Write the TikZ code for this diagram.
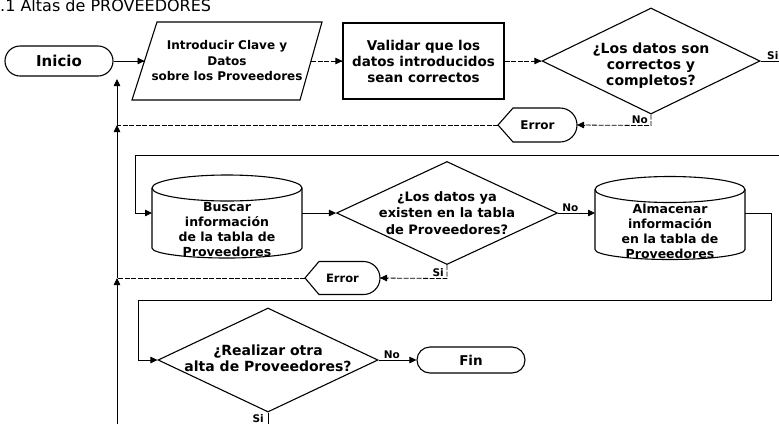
\documentclass[tikz,border=0pt]{standalone}
\usepackage{fontspec}
\setmainfont{DejaVu Sans}
\usetikzlibrary{arrows.meta,shapes.geometric,shapes.misc,calc}

\begin{document}
\begin{tikzpicture}[x=1pt,y=1pt,
  outline/.style={draw=black, line width=1.1pt},
  link/.style={draw=black, line width=0.8pt},
  flow/.style={link, -{Triangle[length=7pt,width=6.5pt]}},
  linkdash/.style={link, dash pattern=on 5pt off 1.5pt},
  holder/.style={inner sep=0pt, outer sep=0pt},
  txt/.style 2 args={align=center, inner sep=0pt, font=\bfseries\fontsize{#1}{#2}\selectfont},
  lbl/.style={inner sep=1pt, font=\bfseries\fontsize{10.5}{11}\selectfont},
  terminal/.style={rounded rectangle, outline, inner sep=0pt},
  decision/.style={diamond, outline, inner sep=0pt}
]
\useasboundingbox (0,0) rectangle (779,-424);

% heading
\node[anchor=base west, inner sep=0pt, font=\fontsize{16}{16}\selectfont] (title) at (0,-11) {.1 Altas de PROVEEDORES};

% ---- first row ----
\node[terminal, minimum width=108, minimum height=30, font=\bfseries\fontsize{15}{15}\selectfont] (inicio) at (59,-61) {Inicio};

\node[holder, minimum width=190, minimum height=78, txt={12}{15.5}] (datos) at (227,-61)
  {Introducir Clave y\\Datos\\sobre los Proveedores};
\draw[outline] ([xshift=25]datos.north west) -- (datos.north east)
  -- ([xshift=-22]datos.south east) -- (datos.south west) -- cycle;

\node[outline, minimum width=161, minimum height=76, txt={13.5}{16}] (validar) at (423.5,-61)
  {Validar que los\\datos introducidos\\sean correctos};

\node[decision, minimum width=218, minimum height=106] (d1) at (651,-61) {};
\node[txt={14}{16}] (d1text) at (651,-66) {¿Los datos son\\correctos y\\completos?};

\node[holder, minimum width=79, minimum height=34, txt={12}{14}] (err1) at (537.5,-125) {Error};
\draw[outline] (err1.west) -- ([xshift=15]err1.north west) -- ([xshift=-17]err1.north east)
  arc[start angle=90, end angle=-90, radius=17] -- ([xshift=15]err1.south west) -- cycle;

% ---- second row ----
\node[holder, minimum width=150, minimum height=83] (cyl1) at (227,-216.5) {};
\draw[outline] ([yshift=-13]cyl1.north) ellipse[x radius=75, y radius=13];
\draw[outline] ([yshift=-13]cyl1.north west) -- ([yshift=10]cyl1.south west)
  arc[start angle=180, end angle=360, x radius=75, y radius=10] -- ([yshift=-13]cyl1.north east);
\node[txt={12.5}{15}] (cyl1text) at (227,-230) {Buscar\\información\\de la tabla de\\Proveedores};

\node[decision, minimum width=221, minimum height=103] (d2) at (447,-213) {};
\node[txt={13}{16.5}] (d2text) at (447,-213) {¿Los datos ya\\existen en la tabla\\de Proveedores?};

\node[holder, minimum width=150, minimum height=83] (cyl2) at (670,-218) {};
\draw[outline] ([yshift=-13]cyl2.north) ellipse[x radius=75, y radius=13];
\draw[outline] ([yshift=-13]cyl2.north west) -- ([yshift=10]cyl2.south west)
  arc[start angle=180, end angle=360, x radius=75, y radius=10] -- ([yshift=-13]cyl2.north east);
\node[txt={12.5}{15}] (cyl2text) at (670,-231) {Almacenar\\información\\en la tabla de\\Proveedores};

\node[holder, minimum width=75, minimum height=33, txt={11.5}{14}] (err2) at (342.5,-278) {Error};
\draw[outline] (err2.west) -- ([xshift=14]err2.north west) -- ([xshift=-16.5]err2.north east)
  arc[start angle=90, end angle=-90, radius=16.5] -- ([xshift=14]err2.south west) -- cycle;

% ---- third row ----
\node[decision, minimum width=220, minimum height=104] (d3) at (268,-360) {};
\node[txt={14}{16}] (d3text) at (268,-358) {¿Realizar otra\\alta de Proveedores?};

\node[terminal, minimum width=108, minimum height=26, font=\bfseries\fontsize{13.5}{14}\selectfont] (fin) at (471,-360) {Fin};

% ---- connection points ----
\coordinate (exit1) at (779,-61);
\coordinate (entry2) at (779,-155);
\coordinate (exit3) at (268,-424);
\coordinate (vbot) at (117,-424);
\coordinate (j2) at (117,-278);
\coordinate (j1) at (117,-125);
\coordinate (vtop) at (117,-79);

% ---- connectors (dashed runs end in a short solid piece carrying the tip) ----
\draw[linkdash] (inicio.east) -- ([xshift=12.5]datos.west);
\draw[flow] ([xshift=5]inicio.east) -- ([xshift=12.5]datos.west);
\draw[linkdash] ([xshift=-11]datos.east) -- (validar.west);
\draw[flow] ([xshift=-8]validar.west) -- (validar.west);
\draw[linkdash] (validar.east) -- (d1.west);
\draw[flow] ([xshift=-8]d1.west) -- (d1.west);

\draw[link] (d1.east) -- (exit1);
\node[lbl, anchor=south west] (si1) at (766,-61) {Si};

\draw[linkdash] (d1.south) -- ++(0,-11) coordinate (c1) -- (err1.east);
\draw[flow] ([xshift=8]err1.east) -- (err1.east);
\node[lbl, anchor=south east] (no1) at ([xshift=-2,yshift=0.5]c1) {No};

\draw[linkdash] (err1.west) -- (j1);
\draw[flow] (j1) -- (vtop);
\draw[flow] (j2) -- (j1);
\draw[flow] (vbot) -- (j2);

\draw[flow] (entry2) -- (135,-155) -- (135,-213) -- (cyl1.west |- d2.west);
\draw[flow] (cyl1.east |- d2.west) -- (d2.west);

\draw[flow] (d2.east) -- (cyl2.west |- d2.east);
\node[lbl, anchor=south west] (no2) at ([xshift=3]d2.east) {No};

\draw[linkdash] (d2.south) -- ++(0,-13.5) coordinate (c2) -- (err2.east);
\draw[flow] ([xshift=8]err2.east) -- (err2.east);
\node[lbl, anchor=south east] (si2) at ([xshift=-2,yshift=0.5]c2) {Si};

\draw[linkdash] (err2.west) -- (j2);

\draw[flow] (cyl2.east |- d2.east) -- (771,-213) -- (771,-300) -- (138,-300) -- (138,-360) -- (d3.west);

\draw[flow] (d3.east) -- (fin.west);
\node[lbl, anchor=south west] (no3) at ([xshift=4]d3.east) {No};

\draw[link] (d3.south) -- (exit3);
\node[lbl, anchor=east] (si3) at ([xshift=-3,yshift=-6]d3.south) {Si};
\end{tikzpicture}
\end{document}
